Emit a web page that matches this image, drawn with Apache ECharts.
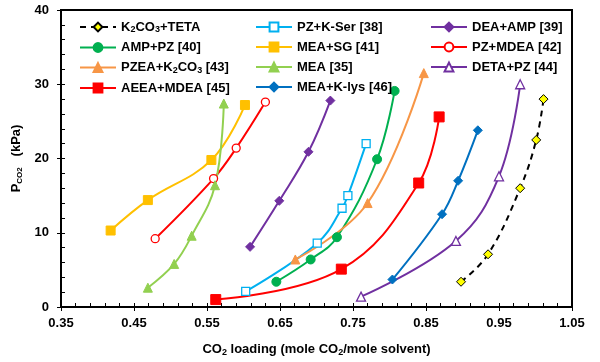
<!DOCTYPE html>
<html><head><meta charset="utf-8">
<script src="https://cdn.jsdelivr.net/npm/echarts@6/dist/echarts.min.js"></script>
<style>html,body{margin:0;padding:0;background:#fff}#c{width:600px;height:362px}</style>
</head><body><div id="c"></div>
<script>
// ---- data ----
const seriesNames = ['K2CO3+TETA','PZ+K-Ser [38]','DEA+AMP [39]','AMP+PZ [40]','MEA+SG [41]','PZ+MDEA [42]','PZEA+K2CO3 [43]','MEA [35]','DETA+PZ [44]','AEEA+MDEA [45]','MEA+K-lys [46]'];
const xTETA   = [0.898, 0.935, 0.979, 1.001, 1.011];
const yTETA   = [3.4, 7.1, 16.0, 22.5, 28.0];
const xKSer   = [0.603, 0.701, 0.735, 0.743, 0.768];
const yKSer   = [2.1, 8.6, 13.3, 15.0, 22.0];
const xDEA    = [0.609, 0.649, 0.689, 0.719];
const yDEA    = [8.1, 14.3, 20.9, 27.8];
const xAMPPZ  = [0.645, 0.692, 0.728, 0.783, 0.807];
const yAMPPZ  = [3.4, 6.4, 9.4, 19.9, 29.1];
const xMEASG  = [0.418, 0.469, 0.556, 0.602];
const yMEASG  = [10.3, 14.4, 19.8, 27.2];
const xPZMDEA = [0.479, 0.559, 0.590, 0.630];
const yPZMDEA = [9.2, 17.3, 21.4, 27.6];
const xPZEA   = [0.671, 0.770, 0.847];
const yPZEA   = [6.4, 14.0, 31.5];
const xMEA    = [0.469, 0.505, 0.529, 0.561, 0.573];
const yMEA    = [2.6, 5.8, 9.6, 16.4, 27.4];
const xDETA   = [0.761, 0.891, 0.950, 0.979];
const yDETA   = [1.4, 8.9, 17.6, 30.0];
const xAEEA   = [0.562, 0.734, 0.840, 0.868];
const yAEEA   = [1.0, 5.1, 16.7, 25.6];
const xKlys   = [0.804, 0.872, 0.894, 0.921];
const yKlys   = [3.7, 12.5, 17.0, 23.8];
const xTicks = [0.35, 0.45, 0.55, 0.65, 0.75, 0.85, 0.95, 1.05];
const yTicks = [0, 10, 20, 30, 40];

function pairs(xs, ys){ return xs.map((x,i)=>[x, ys[i]]); }
const FONT = 'Liberation Sans, Arial, sans-serif';

function mk(name, xs, ys, color, symbol, size, filled, extra){
  const s = {
    name: name, type: 'line', data: pairs(xs, ys), smooth: 0.4,
    xAxisIndex: 0, yAxisIndex: 0,
    symbol: symbol, symbolSize: size, showSymbol: true,
    lineStyle: {color: color, width: 2},
    itemStyle: filled ? {color: color, borderColor: color, borderWidth: 1} : {color: '#ffffff', borderColor: color, borderWidth: 1.3},
    emphasis: {disabled: true}, z: 3
  };
  return Object.assign(s, extra || {});
}

const series = [
  mk(seriesNames[1], xKSer, yKSer, '#00B0F0', 'rect', 8, false),
  mk(seriesNames[2], xDEA, yDEA, '#7030A0', 'diamond', 9, true),
  mk(seriesNames[3], xAMPPZ, yAMPPZ, '#00B050', 'circle', 9, true),
  mk(seriesNames[4], xMEASG, yMEASG, '#FFC000', 'rect', 9, true),
  mk(seriesNames[5], xPZMDEA, yPZMDEA, '#FF0000', 'circle', 8, false),
  mk(seriesNames[6], xPZEA, yPZEA, '#F79646', 'triangle', 9, true),
  mk(seriesNames[7], xMEA, yMEA, '#92D050', 'triangle', 9, true),
  mk(seriesNames[8], xDETA, yDETA, '#7030A0', 'triangle', 9, false),
  mk(seriesNames[9], xAEEA, yAEEA, '#FF0000', 'rect', 10, true),
  mk(seriesNames[10], xKlys, yKlys, '#0070C0', 'diamond', 9, true),
  mk(seriesNames[0], xTETA, yTETA, '#000000', 'diamond', 9, true, {
    lineStyle: {color: '#000000', width: 2, type: [6, 5]},
    itemStyle: {color: '#FFFF00', borderColor: '#000000', borderWidth: 1}
  })
];

const richTxt = {
  n: {fontSize: 13, fontWeight: 'bold', fontFamily: FONT, color: '#000'},
  s: {fontSize: 9, fontWeight: 'bold', fontFamily: FONT, color: '#000', padding: [6, 0, 0, 0]}
};
function legendFmt(name){
  if (name === 'K2CO3+TETA') return '{n|K}{s|2}{n|CO}{s|3}{n|+TETA}';
  if (name === 'PZEA+K2CO3 [43]') return '{n|PZEA+K}{s|2}{n|CO}{s|3}{n| [43]}';
  return '{n|' + name + '}';
}
function legendCol(left, names){
  return {
    orient: 'vertical', left: left, top: 15, data: names,
    itemWidth: 36, itemHeight: 11, itemGap: 6,
    formatter: legendFmt, selectedMode: false,
    textStyle: {fontSize: 13, fontWeight: 'bold', fontFamily: FONT, color: '#000', lineHeight: 14, rich: richTxt}
  };
}

const option = {
  backgroundColor: '#ffffff',
  animation: false,
  grid: {left: 61, right: 28, top: 10, bottom: 51, show: true, borderColor: '#000', borderWidth: 2, backgroundColor: 'transparent'},
  legend: [
    legendCol(74, [seriesNames[0], seriesNames[3], seriesNames[6], seriesNames[9]]),
    legendCol(250, [seriesNames[1], seriesNames[4], seriesNames[7], seriesNames[10]]),
    legendCol(425, [seriesNames[2], seriesNames[5], seriesNames[8]])
  ],
  xAxis: [{
    type: 'value', min: xTicks[0], max: xTicks[xTicks.length-1], interval: 0.1,
    axisLine: {show: true, lineStyle: {color: '#000', width: 2}},
    axisTick: {show: true, inside: false, length: 4, lineStyle: {color: '#000', width: 1}},
    axisLabel: {margin: 10, fontSize: 13, fontWeight: 'bold', fontFamily: FONT, color: '#000', formatter: v => v.toFixed(2)},
    splitLine: {show: false},
    name: '{n|CO}{s|2}{n| loading (mole CO}{s|2}{n|/mole solvent)}',
    nameLocation: 'middle', nameGap: 35,
    nameTextStyle: {rich: richTxt}
  }, {
    type: 'value', min: xTicks[0], max: xTicks[xTicks.length-1], interval: 0.02, position: 'bottom',
    axisLine: {show: false}, axisLabel: {show: false}, splitLine: {show: false},
    axisTick: {show: true, inside: true, length: 4, lineStyle: {color: '#000', width: 1}}
  }],
  yAxis: [{
    type: 'value', min: yTicks[0], max: yTicks[yTicks.length-1], interval: 10,
    axisLine: {show: true, lineStyle: {color: '#000', width: 2}},
    axisTick: {show: true, inside: false, length: 4, lineStyle: {color: '#000', width: 1}},
    axisLabel: {margin: 12, fontSize: 13, fontWeight: 'bold', fontFamily: FONT, color: '#000'},
    splitLine: {show: false},
    name: '{n|P}{t|CO2}{n|   (kPa)}',
    nameLocation: 'middle', nameGap: 27, nameRotate: 90,
    nameTextStyle: {rich: {
      n: {fontSize: 13, fontWeight: 'bold', fontFamily: FONT, color: '#000'},
      t: {fontSize: 8, fontWeight: 'bold', fontFamily: FONT, color: '#000', padding: [6, 0, 0, 0]}
    }}
  }, {
    type: 'value', min: yTicks[0], max: yTicks[yTicks.length-1], interval: 2, position: 'left',
    axisLine: {show: false}, axisLabel: {show: false}, splitLine: {show: false},
    axisTick: {show: true, inside: true, length: 4, lineStyle: {color: '#000', width: 1}}
  }],
  series: series
};
const chart = echarts.init(document.getElementById('c'), null, {renderer: 'canvas'});
chart.setOption(option);
</script>
</body></html>
